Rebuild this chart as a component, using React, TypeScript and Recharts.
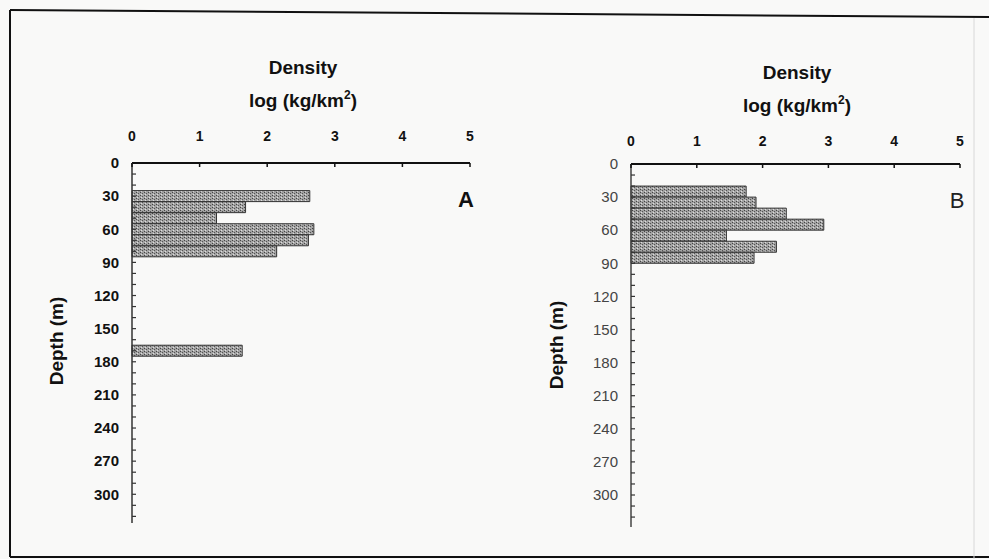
import React from "react";
import { BarChart, Bar, XAxis, YAxis } from "recharts";

// Panel A: depth bins (m) and density log(kg/km^2)
const depthsA = [30, 40, 50, 60, 70, 80, 170];
const valuesA = [2.63, 1.68, 1.25, 2.69, 2.61, 2.14, 1.63];
// Panel B
const depthsB = [25, 35, 45, 55, 65, 75, 85];
const valuesB = [1.75, 1.9, 2.36, 2.93, 1.45, 2.21, 1.87];

const xTicks = [0, 1, 2, 3, 4, 5];
const depthTicks = Array.from({ length: 33 }, (_, i) => i * 10);
const labelStep = 30;

const dataA = depthsA.map((d, i) => ({ depth: d, value: valuesA[i] }));
const dataB = depthsB.map((d, i) => ({ depth: d, value: valuesB[i] }));

const FONT = "'Liberation Sans', Arial, sans-serif";

const makeYTick = (bold: boolean, color: string, gap: number, maxVal: number) => (props: any) => {
  const { x, y, payload } = props;
  const v = payload.value;
  if (v > maxVal) return <g />;
  return (
    <g>
      {v > 0 && <line x1={x} y1={y} x2={x + 4} y2={y} stroke="#333" strokeWidth={1.2} />}
      {v % labelStep === 0 && (
        <text
          x={x - gap}
          y={y}
          dy="0.35em"
          textAnchor="end"
          fontFamily={FONT}
          fontSize={15}
          fontWeight={bold ? 700 : 400}
          fill={color}
        >
          {v}
        </text>
      )}
    </g>
  );
};

const makeXTick = (color: string, offset: number) => (props: any) => {
  const { x, y, payload } = props;
  return (
    <g>
      <line x1={x} y1={y} x2={x} y2={y + 4} stroke="#111" strokeWidth={1.5} />
      <text
        x={x}
        y={y - offset}
        textAnchor="middle"
        fontFamily={FONT}
        fontSize={14}
        fontWeight={700}
        fill={color}
      >
        {payload.value}
      </text>
    </g>
  );
};

const Title = ({ cx, y1, y2 }: { cx: number; y1: number; y2: number }) => (
  <>
    <div
      style={{
        position: "absolute",
        left: cx - 100,
        width: 200,
        top: y1,
        textAlign: "center",
        fontFamily: FONT,
        fontWeight: 700,
        fontSize: 19,
        color: "#111",
        lineHeight: "20px",
      }}
    >
      Density
    </div>
    <div
      style={{
        position: "absolute",
        left: cx - 100,
        width: 200,
        top: y2,
        textAlign: "center",
        fontFamily: FONT,
        fontWeight: 700,
        fontSize: 19,
        color: "#111",
        lineHeight: "20px",
      }}
    >
      log (kg/km<sup style={{ fontSize: 12, verticalAlign: "8px", lineHeight: 0 }}>2</sup>)
    </div>
  </>
);

const DepthLabel = ({ cx, cy }: { cx: number; cy: number }) => (
  <div
    style={{
      position: "absolute",
      left: cx - 60,
      top: cy - 11,
      width: 120,
      height: 22,
      lineHeight: "22px",
      textAlign: "center",
      transform: "rotate(-90deg)",
      fontFamily: FONT,
      fontWeight: 700,
      fontSize: 19,
      color: "#111",
    }}
  >
    Depth (m)
  </div>
);

export default function App() {
  return (
    <div
      style={{
        position: "absolute",
        left: 0,
        top: 0,
        width: 989,
        height: 559,
        background: "#f9f9f8",
        overflow: "hidden",
      }}
    >
      <svg width={989} height={559} style={{ position: "absolute", left: 0, top: 0 }}>
        <defs>
          <pattern id="dotfill" width={4} height={3} patternUnits="userSpaceOnUse">
            <rect width={4} height={3} fill="#a4a4a4" />
            <rect x={0} y={0} width={1} height={1} fill="#444" />
            <rect x={2} y={1} width={1} height={1} fill="#555" />
            <rect x={1} y={2} width={1} height={1} fill="#dedede" />
          </pattern>
        </defs>
        <line x1={10} y1={10} x2={989} y2={17} stroke="#111" strokeWidth={2} />
        <line x1={10} y1={10} x2={10} y2={557} stroke="#111" strokeWidth={2} />
        <line x1={10} y1={557} x2={989} y2={557} stroke="#111" strokeWidth={2} />
        <line x1={974} y1={18} x2={974} y2={559} stroke="#d8d8d8" strokeWidth={1} />
      </svg>

      <div style={{ position: "absolute", left: 0, top: 0 }}>
        <BarChart
          width={500}
          height={559}
          data={dataA}
          layout="vertical"
          margin={{ top: 133, left: 92, right: 30, bottom: 36 }}
        >
          <XAxis
            type="number"
            orientation="top"
            domain={[0, 5]}
            ticks={xTicks}
            interval={0}
            height={30}
            tickSize={0}
            tickMargin={0}
            tickLine={false}
            axisLine={{ stroke: "#111", strokeWidth: 2 }}
            tick={makeXTick("#111", 22)}
          />
          <YAxis
            type="number"
            dataKey="depth"
            domain={[0, 326]}
            ticks={depthTicks}
            interval={0}
            width={40}
            tickSize={0}
            tickMargin={0}
            tickLine={false}
            allowDataOverflow
            axisLine={{ stroke: "#333", strokeWidth: 1.5 }}
            tick={makeYTick(true, "#111", 13, 320)}
          />
          <Bar
            dataKey="value"
            barSize={11}
            fill="url(#dotfill)"
            stroke="#333"
            strokeWidth={1}
            isAnimationActive={false}
          />
        </BarChart>
      </div>

      <div style={{ position: "absolute", left: 500, top: 0 }}>
        <BarChart
          width={489}
          height={559}
          data={dataB}
          layout="vertical"
          margin={{ top: 134, left: 91, right: 29, bottom: 32 }}
        >
          <XAxis
            type="number"
            orientation="top"
            domain={[0, 5]}
            ticks={xTicks}
            interval={0}
            height={30}
            tickSize={0}
            tickMargin={0}
            tickLine={false}
            axisLine={{ stroke: "#111", strokeWidth: 2 }}
            tick={makeXTick("#111", 18)}
          />
          <YAxis
            type="number"
            dataKey="depth"
            domain={[0, 329]}
            ticks={depthTicks}
            interval={0}
            width={40}
            tickSize={0}
            tickMargin={0}
            tickLine={false}
            allowDataOverflow
            axisLine={{ stroke: "#444", strokeWidth: 1.5 }}
            tick={makeYTick(false, "#444", 13, 320)}
          />
          <Bar
            dataKey="value"
            barSize={11}
            fill="url(#dotfill)"
            stroke="#333"
            strokeWidth={1}
            isAnimationActive={false}
          />
        </BarChart>
      </div>

      <Title cx={303} y1={58} y2={91} />
      <Title cx={797} y1={63} y2={96} />
      <DepthLabel cx={57} cy={341} />
      <DepthLabel cx={557} cy={345} />

      <div
        style={{
          position: "absolute",
          left: 450,
          top: 188,
          width: 32,
          textAlign: "center",
          fontFamily: FONT,
          fontWeight: 700,
          fontSize: 22,
          color: "#111",
          lineHeight: "24px",
        }}
      >
        A
      </div>
      <div
        style={{
          position: "absolute",
          left: 941,
          top: 189,
          width: 32,
          textAlign: "center",
          fontFamily: FONT,
          fontWeight: 400,
          fontSize: 22,
          color: "#222",
          lineHeight: "24px",
        }}
      >
        B
      </div>
    </div>
  );
}
